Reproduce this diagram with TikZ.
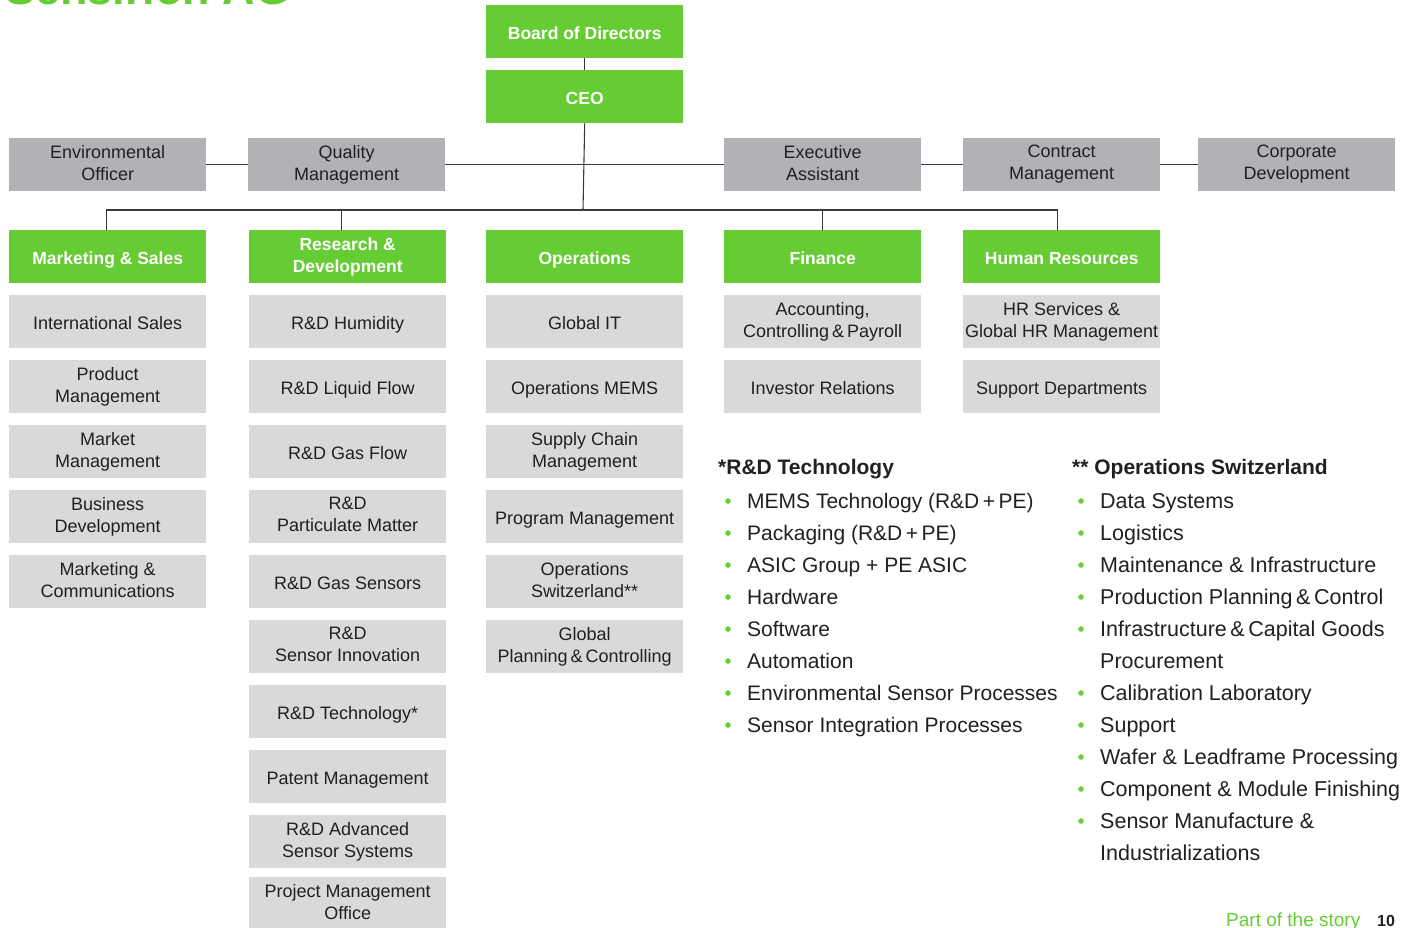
\documentclass[tikz,border=0pt]{standalone}
\usepackage{fontspec}
\setmainfont{Liberation Sans}
\definecolor{sgreen}{HTML}{66CC33}
\definecolor{staffgrey}{HTML}{B1B2B5}
\definecolor{subgrey}{HTML}{D8D9DB}
\definecolor{txt}{HTML}{231F20}
\definecolor{linec}{HTML}{3A3A3A}
\newcommand\bxstrut{\vrule height 19pt depth 4pt width 0pt}
\begin{document}
\begin{tikzpicture}[x=1pt,y=-1pt,
  box/.style={minimum width=197pt,minimum height=53pt,inner sep=0pt,anchor=north west,align=center,text=txt,font=\fontsize{18}{22}\selectfont,
    execute at begin node=\bxstrut, execute at end node=\bxstrut},
  topbox/.style={box,fill=sgreen,text=white,font=\bfseries\fontsize{17.5}{22}\selectfont},
  staff/.style={box,fill=staffgrey},
  sub/.style={box,fill=subgrey},
  conn/.style={draw=linec,line width=1.1pt},
  lhead/.style={anchor=base west,inner sep=0pt,text=txt,font=\bfseries\fontsize{21}{24}\selectfont},
  litem/.style={anchor=base west,inner sep=0pt,text=txt,font=\fontsize{21}{24}\selectfont},
  bul/.style={circle,fill=sgreen,inner sep=0pt,minimum size=5.5pt}]
\useasboundingbox (0,0) rectangle (1415,927);
\clip (0,0) rectangle (1415,927);
% title (cut off at top)
\node[anchor=base west,inner sep=0pt,text=sgreen,font=\bfseries\fontsize{45}{45}\selectfont] (title) at (5,4) {Sensirion AG};
% top
\node[topbox] (board) at (486,5) {Board of Directors};
\node[topbox] (ceo) at (486,70) {CEO};
% staff
\node[staff] (env) at (9,138) {Environmental\\Officer};
\node[staff] (qm) at (248,138) {Quality\\Management};
\node[staff] (exa) at (724,138) {Executive\\Assistant};
\node[staff] (cm) at (963,138) {Contract\\Management};
\node[staff] (cd) at (1198,138) {Corporate\\Development};
% departments
\node[topbox] (ms) at (9,230) {Marketing \& Sales};
\node[topbox] (rd) at (249,230) {Research \&\\Development};
\node[topbox] (ops) at (486,230) {Operations};
\node[topbox] (fin) at (724,230) {Finance};
\node[topbox] (hr) at (963,230) {Human Resources};
% column 1
\node[sub] (ms1) at (9,295) {International Sales};
\node[sub] (ms2) at (9,360) {Product\\Management};
\node[sub] (ms3) at (9,425) {Market\\Management};
\node[sub] (ms4) at (9,490) {Business\\Development};
\node[sub] (ms5) at (9,555) {Marketing \&\\Communications};
% column 2
\node[sub] (rd1) at (249,295) {R\&D Humidity};
\node[sub] (rd2) at (249,360) {R\&D Liquid Flow};
\node[sub] (rd3) at (249,425) {R\&D Gas Flow};
\node[sub] (rd4) at (249,490) {R\&D\\Particulate Matter};
\node[sub] (rd5) at (249,555) {R\&D Gas Sensors};
\node[sub] (rd6) at (249,620) {R\&D\\Sensor Innovation};
\node[sub] (rd7) at (249,685) {R\&D Technology*};
\node[sub] (rd8) at (249,750) {Patent Management};
\node[sub] (rd9) at (249,815) {R\&D Advanced\\Sensor Systems};
\node[sub] (rd10) at (249,877) {Project Management\\Office};
% column 3
\node[sub] (op1) at (486,295) {Global IT};
\node[sub] (op2) at (486,360) {Operations MEMS};
\node[sub] (op3) at (486,425) {Supply Chain\\Management};
\node[sub] (op4) at (486,490) {Program Management};
\node[sub] (op5) at (486,555) {Operations\\Switzerland**};
\node[sub] (op6) at (486,620) {Global\\Planning\,\&\,Controlling};
% column 4
\node[sub] (fi1) at (724,295) {Accounting,\\Controlling\,\&\,Payroll};
\node[sub] (fi2) at (724,360) {Investor Relations};
% column 5
\node[sub] (hr1) at (963,295) {HR Services \&\\Global HR Management};
\node[sub] (hr2) at (963,360) {Support Departments};
% connectors
\draw[conn] (board.south) -- (ceo.north);
\coordinate (bus) at (583,210);
\draw[conn] (ceo.south) -- (bus);
\draw[conn] (env.east) -- (qm.west);
\draw[conn] (qm.east) -- (exa.west);
\draw[conn] (exa.east) -- (cm.west);
\draw[conn] (cm.east) -- (cd.west);
\draw[conn] ([xshift=-1pt]ms.north) |- (bus);
\draw[conn] ([xshift=-6pt]rd.north) |- (bus);
\draw[conn] (fin.north) |- (bus);
\draw[conn] ([xshift=-4.5pt]hr.north) |- (bus);
% left list
\node[lhead] (lh) at (718,474) {*R\&D Technology};
\foreach \t [count=\i] in {MEMS Technology (R\&D\,+\,PE),Packaging (R\&D\,+\,PE),ASIC Group + PE ASIC,Hardware,Software,Automation,Environmental Sensor Processes,Sensor Integration Processes}{
  \node[litem] (li\i) at (747,476+32*\i) {\t};
  \node[bul] (lb\i) at (728,469+32*\i) {};
}
% right list
\node[lhead] (rh) at (1072,474) {** Operations Switzerland};
\foreach \t/\b [count=\i] in {Data Systems/1,Logistics/1,Maintenance \& Infrastructure/1,Production Planning\,\&\,Control/1,Infrastructure\,\&\,Capital Goods/1,Procurement/0,Calibration Laboratory/1,Support/1,Wafer \& Leadframe Processing/1,Component \& Module Finishing/1,Sensor Manufacture \&/1,Industrializations/0}{
  \node[litem,font=\fontsize{21.5}{24}\selectfont] (ri\i) at (1100,476+32*\i) {\t};
  \ifnum\b=1 \node[bul] (rb\i) at (1081,469+32*\i) {};\fi
}
% footer
\node[anchor=base west,inner sep=0pt,text=sgreen,font=\fontsize{19}{22}\selectfont] (foot) at (1226,926) {Part of the story};
\node[anchor=base west,inner sep=0pt,text=txt,font=\bfseries\fontsize{16}{19}\selectfont] (pg) at (1377,926) {10};
\end{tikzpicture}
\end{document}
